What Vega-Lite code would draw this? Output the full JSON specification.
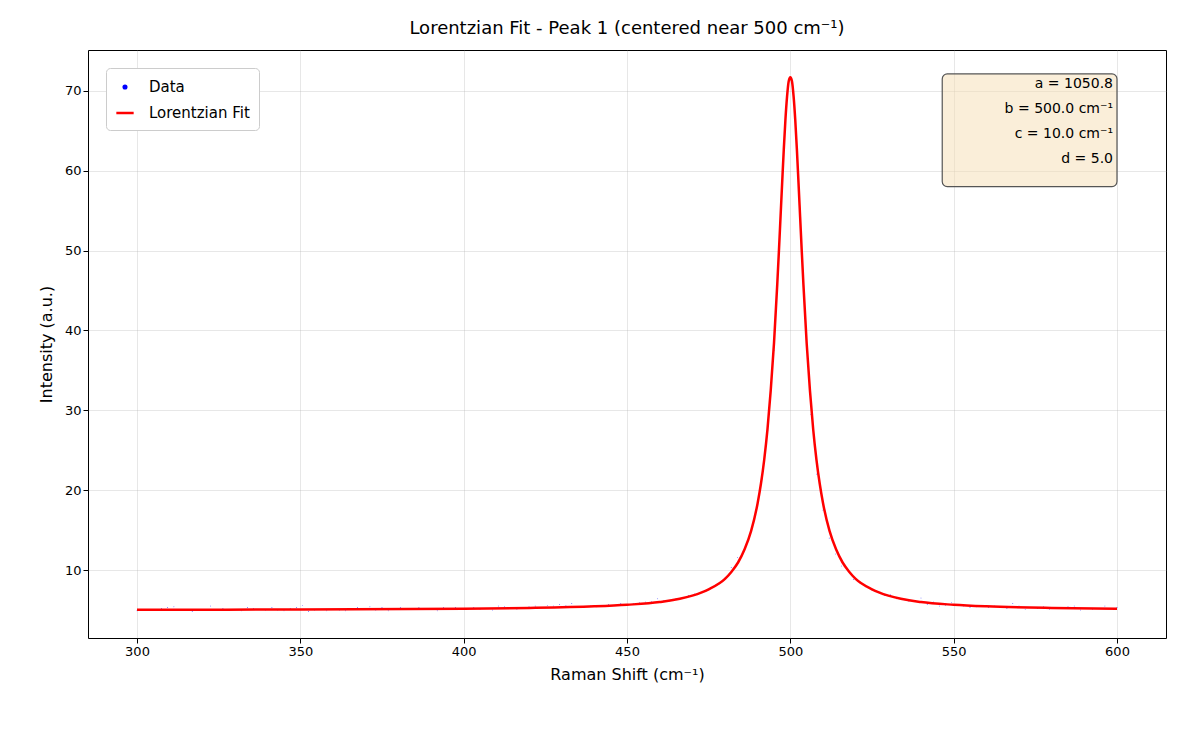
{
  "$schema": "https://vega.github.io/schema/vega-lite/v6.json",
  "width": 1078,
  "height": 588,
  "padding": {"left": 38, "top": 20, "right": 10, "bottom": 5},
  "background": "white",
  "title": {"text": "Lorentzian Fit - Peak 1 (centered near 500 cm⁻¹)", "fontSize": 18, "fontWeight": "normal", "font": "DejaVu Sans", "offset": 12},
  "datasets": {
    "points": [
      {"x":300,"y":4.9},{"x":301.9,"y":5.0},{"x":303.8,"y":5.0},{"x":305.6,"y":5.1},{"x":307.5,"y":5.2},{"x":309.4,"y":5.3},{"x":311.3,"y":5.4},{"x":313.1,"y":5.1},
      {"x":315,"y":5.1},{"x":316.9,"y":4.8},{"x":318.8,"y":5.1},{"x":320.6,"y":5.0},{"x":322.5,"y":5.5},{"x":324.4,"y":5.1},{"x":326.3,"y":5.2},{"x":328.1,"y":5.0},
      {"x":330,"y":5.1},{"x":331.9,"y":4.9},{"x":333.8,"y":5.3},{"x":335.6,"y":5.2},{"x":337.5,"y":5.1},{"x":339.4,"y":5.0},{"x":341.3,"y":5.3},{"x":343.1,"y":5.0},
      {"x":345,"y":4.9},{"x":346.9,"y":5.2},{"x":348.8,"y":5.3},{"x":350.6,"y":5.6},{"x":352.5,"y":4.8},{"x":354.4,"y":5.0},{"x":356.3,"y":5.1},{"x":358.1,"y":4.9},
      {"x":360,"y":5.1},{"x":361.9,"y":5.0},{"x":363.8,"y":4.9},{"x":365.6,"y":5.2},{"x":367.5,"y":5.3},{"x":369.4,"y":5.1},{"x":371.3,"y":5.4},{"x":373.1,"y":5.0},
      {"x":375,"y":5.3},{"x":376.9,"y":4.9},{"x":378.8,"y":5.2},{"x":380.6,"y":5.3},{"x":382.5,"y":5.1},{"x":384.4,"y":5.2},{"x":386.3,"y":5.3},{"x":388.1,"y":5.1},
      {"x":390,"y":5.2},{"x":391.9,"y":4.9},{"x":393.8,"y":5.3},{"x":395.6,"y":5.2},{"x":397.5,"y":5.3},{"x":399.4,"y":5.2},{"x":401.3,"y":5.1},{"x":403.1,"y":5.3},
      {"x":405,"y":5.1},{"x":406.9,"y":5.2},{"x":408.8,"y":5.0},{"x":410.6,"y":5.5},{"x":412.5,"y":5.4},{"x":414.4,"y":5.2},{"x":416.3,"y":5.1},{"x":418.1,"y":5.3},
      {"x":420,"y":5.4},{"x":421.9,"y":5.5},{"x":423.8,"y":5.3},{"x":425.6,"y":5.6},{"x":427.5,"y":5.5},{"x":429.4,"y":5.7},{"x":431.3,"y":5.6},{"x":433.1,"y":5.8},
      {"x":435,"y":5.4},{"x":436.9,"y":5.3},{"x":438.8,"y":5.5},{"x":440.6,"y":5.4},{"x":442.5,"y":5.6},{"x":444.4,"y":5.7},{"x":446.3,"y":5.6},{"x":448.1,"y":5.8},
      {"x":450,"y":5.7},{"x":451.9,"y":5.8},{"x":453.8,"y":5.9},{"x":455.6,"y":6.0},{"x":457.5,"y":6.1},{"x":459.4,"y":6.4},{"x":461.3,"y":6.2},{"x":463.1,"y":6.1},
      {"x":465,"y":6.4},{"x":466.9,"y":6.6},{"x":468.8,"y":6.8},{"x":470.6,"y":7.0},{"x":472.5,"y":7.2},{"x":474.4,"y":7.4},{"x":476.3,"y":7.9},{"x":478.1,"y":8.2},
      {"x":480,"y":9.0},{"x":481.9,"y":10.3},{"x":483.8,"y":11.6},{"x":485.6,"y":12.4},{"x":487.5,"y":14.3},{"x":489.4,"y":17.0},{"x":491.3,"y":21.3},{"x":493.1,"y":27.5},
      {"x":495,"y":37.5},{"x":496.9,"y":52.3},{"x":498.8,"y":68.0},{"x":500.6,"y":70.3},{"x":502.5,"y":56.5},{"x":504.4,"y":41.5},{"x":506.3,"y":29.5},{"x":508.1,"y":22.0},
      {"x":510,"y":17.5},{"x":511.9,"y":14.0},{"x":513.8,"y":12.0},{"x":515.6,"y":10.5},{"x":517.5,"y":10.2},{"x":519.4,"y":8.8},{"x":521.3,"y":8.4},{"x":523.1,"y":7.9},
      {"x":525,"y":7.5},{"x":526.9,"y":7.2},{"x":528.8,"y":6.8},{"x":530.6,"y":6.9},{"x":532.5,"y":6.4},{"x":534.4,"y":6.3},{"x":536.3,"y":6.1},{"x":538.1,"y":6.2},
      {"x":540,"y":6.5},{"x":541.9,"y":5.7},{"x":543.8,"y":6.0},{"x":545.6,"y":5.5},{"x":547.5,"y":5.6},{"x":549.4,"y":5.9},{"x":551.3,"y":5.6},{"x":553.1,"y":5.5},
      {"x":555,"y":5.3},{"x":556.9,"y":5.4},{"x":558.8,"y":5.6},{"x":560.6,"y":5.3},{"x":562.5,"y":5.5},{"x":564.4,"y":5.4},{"x":566.3,"y":5.2},{"x":568.1,"y":5.8},
      {"x":570,"y":5.5},{"x":571.9,"y":5.1},{"x":573.8,"y":5.3},{"x":575.6,"y":5.2},{"x":577.5,"y":5.4},{"x":579.4,"y":5.1},{"x":581.3,"y":5.3},{"x":583.1,"y":5.2},
      {"x":585,"y":5.4},{"x":586.9,"y":5.5},{"x":588.8,"y":5.0},{"x":590.6,"y":5.2},{"x":592.5,"y":5.1},{"x":594.4,"y":5.2},{"x":596.3,"y":5.5},{"x":598.1,"y":5.2},
      {"x":600,"y":5.3}
    ],
    "fit": [
      {"x":300,"y":5.04},{"x":350,"y":5.07},{"x":400,"y":5.17},{"x":420,"y":5.26},{"x":440,"y":5.46},{"x":450,"y":5.66},{"x":460,"y":6.0},{"x":470,"y":6.8},{"x":475,"y":7.6},{"x":480,"y":8.9},
      {"x":482,"y":9.8},{"x":484,"y":10.95},{"x":486,"y":12.6},{"x":488,"y":14.9},{"x":490,"y":18.4},{"x":491,"y":20.8},{"x":492,"y":23.8},{"x":493,"y":27.6},{"x":494,"y":32.5},{"x":495,"y":38.4},
      {"x":496,"y":45.8},{"x":496.5,"y":49.9},{"x":497,"y":54.2},{"x":497.5,"y":58.5},{"x":498,"y":62.7},{"x":498.5,"y":66.4},{"x":499,"y":69.3},{"x":499.5,"y":71.2},{"x":500,"y":71.7},
      {"x":500.5,"y":71.2},{"x":501,"y":69.3},{"x":501.5,"y":66.4},{"x":502,"y":62.7},{"x":502.5,"y":58.5},{"x":503,"y":54.2},{"x":503.5,"y":49.9},{"x":504,"y":45.8},{"x":505,"y":38.4},
      {"x":506,"y":32.5},{"x":507,"y":27.6},{"x":508,"y":23.8},{"x":509,"y":20.8},{"x":510,"y":18.4},{"x":512,"y":14.9},{"x":514,"y":12.6},{"x":516,"y":10.95},{"x":518,"y":9.8},{"x":520,"y":8.9},
      {"x":525,"y":7.6},{"x":530,"y":6.8},{"x":540,"y":6.0},{"x":550,"y":5.66},{"x":560,"y":5.46},{"x":580,"y":5.26},{"x":600,"y":5.17}
    ],
    "box": [{"x1":546.5,"x2":600,"y1":58.0,"y2":72.1,"label":["a = 1050.8","b = 500.0 cm⁻¹","c = 10.0 cm⁻¹","d = 5.0"]}]
  },
  "layer": [
    {
      "data": {"name": "points"},
      "transform": [{"calculate": "'Data'", "as": "series"}],
      "mark": {"type": "point", "filled": true, "size": 22, "opacity": 1},
      "encoding": {
        "x": {"field": "x", "type": "quantitative", "scale": {"domain": [285, 615], "nice": false, "zero": false},
          "axis": {"values": [300,350,400,450,500,550,600], "title": "Raman Shift (cm⁻¹)"}},
        "y": {"field": "y", "type": "quantitative", "scale": {"domain": [1.5, 75.1], "nice": false, "zero": false},
          "axis": {"values": [10,20,30,40,50,60,70], "title": "Intensity (a.u.)"}},
        "color": {"field": "series", "type": "nominal", "scale": {"domain": ["Data","Lorentzian Fit"], "range": ["#0000ff","#ff0000"]},
          "legend": {"title": null, "orient": "top-left", "offsetX": 10, "offsetY": 10, "fillColor": "white", "strokeColor": "#cccccc",
            "padding": 9, "cornerRadius": 4, "labelFontSize": 15, "labelFont": "DejaVu Sans", "symbolSize": 300, "symbolStrokeWidth": 2.5, "rowPadding": 8, "labelOffset": 14}},
        "shape": {"field": "series", "type": "nominal", "scale": {"domain": ["Data","Lorentzian Fit"], "range": ["M-0.15,0A0.15,0.15 0 1,0 0.15,0A0.15,0.15 0 1,0 -0.15,0Z","stroke"]}}
      }
    },
    {
      "data": {"name": "fit"},
      "transform": [{"calculate": "'Lorentzian Fit'", "as": "series"}],
      "mark": {"type": "line", "strokeWidth": 2.5, "interpolate": "monotone"},
      "encoding": {
        "x": {"field": "x", "type": "quantitative"},
        "y": {"field": "y", "type": "quantitative"},
        "color": {"field": "series", "type": "nominal"}
      }
    },
    {
      "data": {"name": "box"},
      "mark": {"type": "rect", "fill": "#f5deb3", "fillOpacity": 0.5, "stroke": "#555555", "strokeWidth": 1.2, "cornerRadius": 5},
      "encoding": {
        "x": {"field": "x1", "type": "quantitative"},
        "x2": {"field": "x2"},
        "y": {"field": "y1", "type": "quantitative"},
        "y2": {"field": "y2"}
      }
    },
    {
      "data": {"name": "box"},
      "mark": {"type": "text", "align": "right", "baseline": "top", "fontSize": 14, "font": "DejaVu Sans", "lineHeight": 25, "dx": -4, "dy": 3},
      "encoding": {
        "x": {"field": "x2", "type": "quantitative"},
        "y": {"field": "y2", "type": "quantitative"},
        "text": {"field": "label"}
      }
    }
  ],
  "config": {
    "font": "DejaVu Sans",
    "view": {"stroke": "black", "strokeWidth": 1},
    "axis": {"grid": true, "gridColor": "#b0b0b0", "gridOpacity": 0.3, "domain": false, "tickColor": "black", "tickSize": 5,
      "labelFontSize": 13, "labelColor": "black", "titleFontSize": 16, "titleFontWeight": "normal", "titleColor": "black", "labelFont": "DejaVu Sans", "titleFont": "DejaVu Sans"},
    "axisX": {"titlePadding": 8},
    "axisY": {"titlePadding": 10}
  }
}
